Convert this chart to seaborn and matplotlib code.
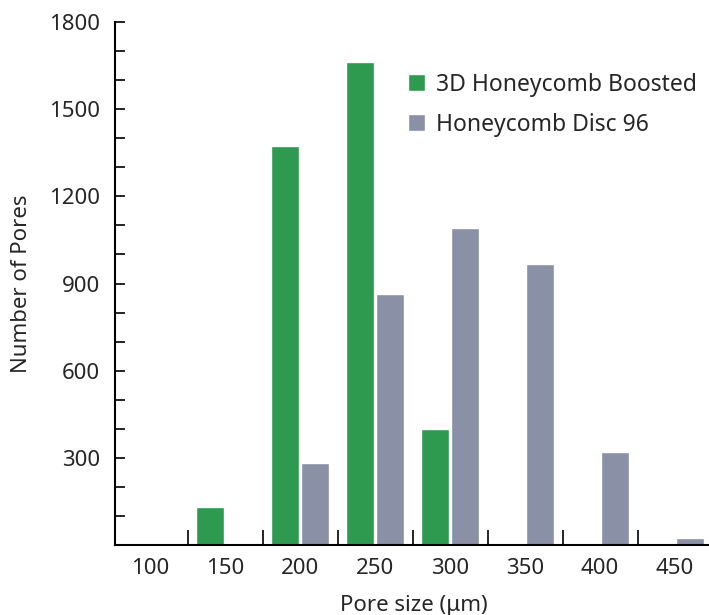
import matplotlib
matplotlib.use("Agg")
import matplotlib.pyplot as plt
import seaborn as sns
import pandas as pd
from matplotlib.ticker import FixedLocator

categories = ["100", "150", "200", "250", "300", "350", "400", "450"]
boosted = [0, 131, 1372, 1664, 399, 0, 0, 0]
disc96 = [0, 0, 283, 865, 1092, 968, 320, 24]
series_names = ["3D Honeycomb Boosted", "Honeycomb Disc 96"]
colors = ["#2e9a4f", "#8a90a6"]

df = pd.DataFrame({
    "size": categories * 2,
    "count": boosted + disc96,
    "series": [series_names[0]] * len(categories) + [series_names[1]] * len(categories),
})

sns.set_style("white")
plt.rcParams["font.family"] = ["Noto Sans", "DejaVu Sans"]

fig = plt.figure(figsize=(7.09, 6.15), dpi=100)
ax = fig.add_axes([115 / 709, 70 / 615, 597.5 / 709, 523 / 615])

sns.barplot(data=df, x="size", y="count", hue="series", order=categories,
            hue_order=series_names, palette=colors, width=0.8, gap=0.05,
            saturation=1, ax=ax, legend=True)

ax.set_xlim(-0.467, 7.5)
ax.set_ylim(0, 1800)

for s in ["top", "right"]:
    ax.spines[s].set_visible(False)
for s in ["left", "bottom"]:
    ax.spines[s].set_linewidth(1.5)
    ax.spines[s].set_color("black")

ax.yaxis.set_major_locator(FixedLocator([300, 600, 900, 1200, 1500, 1800]))
ax.yaxis.set_minor_locator(FixedLocator([100, 200, 400, 500, 700, 800, 1000, 1100,
                                         1300, 1400, 1600, 1700]))
ax.tick_params(axis="y", which="both", direction="in", length=7.5, width=1.2,
               color="black", labelsize=16, pad=11, left=True)
ax.xaxis.set_minor_locator(FixedLocator([i + 0.5 for i in range(8)]))
ax.tick_params(axis="x", which="major", length=0, labelsize=16, pad=9)
ax.tick_params(axis="x", which="minor", direction="in", length=11, width=1.2,
               color="black", bottom=True)

ax.set_xlabel("Pore size (μm)", fontsize=16, labelpad=12)
ax.set_ylabel("Number of Pores", fontsize=16, labelpad=12)

ax.legend(frameon=False, fontsize=16.5, loc="upper left",
          bbox_to_anchor=(387 / 709, 1 - 52 / 615), bbox_transform=fig.transFigure,
          handlelength=0.75, handleheight=0.75, handletextpad=0.5, labelspacing=0.7)

fig.savefig("out.png", dpi=100)
